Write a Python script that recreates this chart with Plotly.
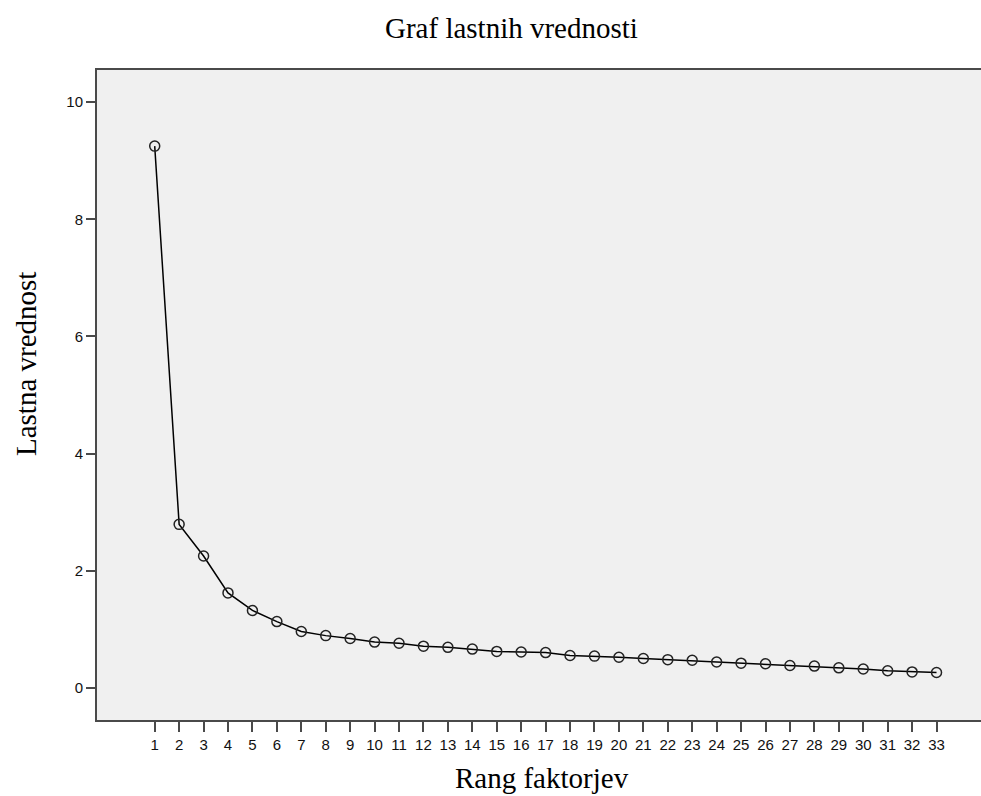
import plotly.graph_objects as go

factors = list(range(1, 34))
eigenvalues = [9.25, 2.79, 2.25, 1.62, 1.32, 1.13, 0.96, 0.89, 0.84, 0.78,
               0.76, 0.71, 0.69, 0.66, 0.62, 0.61, 0.60, 0.55, 0.54, 0.52,
               0.50, 0.48, 0.47, 0.44, 0.42, 0.41, 0.38, 0.37, 0.34, 0.32,
               0.29, 0.27, 0.26]
y_ticks = [0, 2, 4, 6, 8, 10]

title_text = "Graf lastnih vrednosti"
x_title = "Rang faktorjev"
y_title = "Lastna vrednost"

W, H = 981, 796
L, R, T, B = 97, 0, 70, 76
pw, ph = W - L - R, H - T - B

def px(x):
    return (x - L) / pw

def py(y):
    return (H - B - y) / ph

fig = go.Figure()
fig.add_trace(go.Scatter(
    x=factors, y=eigenvalues, mode="lines+markers",
    line=dict(color="black", width=1.5),
    marker=dict(symbol="circle-open", size=10, color="#222222", line=dict(width=1.5)),
    showlegend=False, hoverinfo="x+y",
))

axis_font = dict(family="Liberation Sans, Arial", size=15, color="#111111")
fig.update_layout(
    width=W, height=H,
    margin=dict(l=L, r=R, t=T, b=B, pad=0),
    paper_bgcolor="white", plot_bgcolor="#f0f0f0",
    xaxis=dict(range=[-1.362, 34.82], tickmode="array", tickvals=factors,
               ticktext=[str(f) for f in factors], showgrid=False, zeroline=False,
               showline=True, linecolor="#4a4a4a", linewidth=2, mirror=True,
               ticks="outside", ticklen=10, tickwidth=2, tickcolor="#4a4a4a",
               tickfont=axis_font),
    yaxis=dict(range=[-0.551, 10.55], tickmode="array", tickvals=y_ticks,
               showgrid=False, zeroline=False, showline=True, linecolor="#4a4a4a",
               linewidth=2, mirror=False, ticks="outside", ticklen=9, tickwidth=2,
               tickcolor="#4a4a4a", tickfont=axis_font),
    annotations=[
        dict(text=title_text, xref="paper", yref="paper", x=px(511.5), y=py(28),
             xanchor="center", yanchor="middle", showarrow=False,
             font=dict(family="Liberation Serif, Times New Roman", size=29, color="black")),
        dict(text=x_title, xref="paper", yref="paper", x=px(541.5), y=py(778),
             xanchor="center", yanchor="middle", showarrow=False,
             font=dict(family="Liberation Serif, Times New Roman", size=29, color="black")),
        dict(text=y_title, xref="paper", yref="paper", x=px(26), y=py(364),
             xanchor="center", yanchor="middle", showarrow=False, textangle=-90,
             font=dict(family="Liberation Serif, Times New Roman", size=29, color="black")),
    ],
)

fig.write_html("out.html")
